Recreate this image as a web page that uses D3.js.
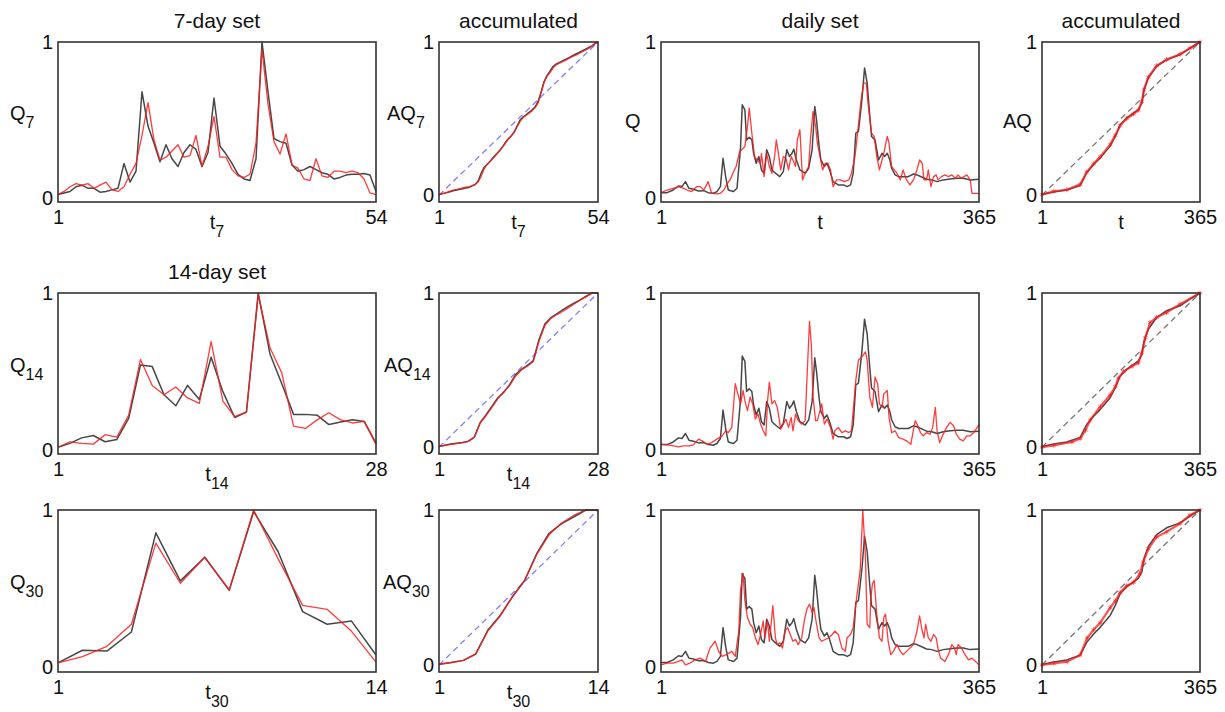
<!DOCTYPE html>
<html>
<head>
<meta charset="utf-8">
<script src="https://cdn.jsdelivr.net/npm/d3@7"></script>
<style>
  body { margin: 0; background: #fff; }
  svg { display: block; font-family: "Liberation Sans", Arial, sans-serif; }
</style>
</head>
<body>
<div id="chart"></div>
<script>
// 7-day set (t7 = 1..54)
const q7Obs = [0.02,0.03,0.04,0.07,0.08,0.06,0.06,0.035,0.04,0.05,
  0.06,0.22,0.10,0.17,0.68,0.46,0.35,0.23,0.34,0.25,
  0.20,0.29,0.34,0.31,0.20,0.29,0.64,0.33,0.28,0.22,
  0.15,0.12,0.11,0.25,1.0,0.68,0.38,0.36,0.35,0.21,
  0.17,0.18,0.20,0.18,0.16,0.15,0.12,0.13,0.145,0.15,
  0.15,0.155,0.145,0.04];
const q7Sim = [0.02,0.04,0.07,0.09,0.08,0.09,0.06,0.08,0.10,0.05,
  0.04,0.07,0.15,0.22,0.40,0.61,0.37,0.24,0.26,0.30,
  0.34,0.26,0.27,0.40,0.20,0.33,0.52,0.26,0.26,0.18,
  0.14,0.13,0.15,0.35,0.95,0.60,0.36,0.28,0.41,0.21,
  0.19,0.12,0.11,0.25,0.14,0.13,0.17,0.17,0.16,0.17,
  0.16,0.12,0.03,0.02];
const aq7Obs = [0.004,0.008,0.013,0.018,0.024,0.03,0.034,0.038,0.042,0.046,
  0.05,0.06,0.068,0.09,0.14,0.18,0.20,0.22,0.245,0.265,
  0.285,0.31,0.34,0.365,0.385,0.41,0.45,0.49,0.51,0.525,
  0.54,0.555,0.575,0.61,0.67,0.74,0.78,0.81,0.84,0.855,
  0.865,0.875,0.885,0.895,0.905,0.915,0.925,0.935,0.945,0.955,
  0.965,0.975,0.99,1.0];
const aq7Sim = [0.004,0.009,0.015,0.022,0.028,0.034,0.038,0.043,0.048,0.052,
  0.055,0.06,0.07,0.085,0.12,0.17,0.20,0.22,0.24,0.262,
  0.287,0.31,0.335,0.365,0.385,0.41,0.445,0.48,0.505,0.52,
  0.535,0.55,0.57,0.6,0.665,0.735,0.775,0.80,0.83,0.85,
  0.86,0.87,0.878,0.89,0.9,0.91,0.918,0.928,0.938,0.948,
  0.96,0.972,0.99,1.0];

// 14-day set (t14 = 1..28)
const q14Obs = [0.015,0.04,0.075,0.09,0.05,0.065,0.2,0.54,0.53,0.35,0.28,0.41,0.32,0.59,
  0.37,0.205,0.24,1.0,0.61,0.42,0.225,0.225,0.22,0.16,0.177,0.19,0.18,0.04];
const q14Sim = [0.015,0.05,0.04,0.035,0.095,0.08,0.22,0.575,0.41,0.35,0.40,0.33,0.295,0.69,
  0.31,0.21,0.24,0.99,0.65,0.49,0.15,0.135,0.19,0.235,0.19,0.17,0.18,0.035];
const aq14Obs = [0.004,0.012,0.02,0.025,0.03,0.038,0.065,0.16,0.21,0.265,0.32,0.355,0.405,0.47,
  0.505,0.53,0.56,0.70,0.80,0.84,0.865,0.89,0.915,0.935,0.955,0.98,1.0,1.0];
const aq14Sim = [0.004,0.011,0.017,0.022,0.029,0.037,0.063,0.155,0.205,0.26,0.315,0.36,0.40,0.46,
  0.50,0.525,0.555,0.69,0.79,0.835,0.86,0.88,0.905,0.93,0.955,0.975,1.0,1.0];

// 30-day set (t30 = 1..14)
const q30Obs = [0.03,0.11,0.105,0.226,0.855,0.55,0.70,0.49,0.99,0.735,0.355,0.275,0.295,0.08];
const q30Sim = [0.03,0.07,0.135,0.275,0.79,0.535,0.70,0.495,1.0,0.69,0.395,0.37,0.23,0.035];
const aq30Obs = [0.005,0.017,0.03,0.07,0.226,0.32,0.44,0.545,0.72,0.85,0.91,0.955,1.0,1.0];
const aq30Sim = [0.005,0.015,0.03,0.072,0.22,0.315,0.44,0.545,0.715,0.84,0.915,0.965,1.0,1.0];

// daily set, [day, value] vertices
const qDailyObs = [[1,0.032],[8,0.032],[15,0.049],[21,0.075],[25,0.071],[29,0.103],[33,0.06],[38,0.054],
  [44,0.043],[50,0.045],[55,0.032],[61,0.028],[65,0.039],[69,0.071],[72,0.253],[75,0.135],[78,0.049],
  [84,0.039],[88,0.06],[92,0.318],[94,0.597],[97,0.564],[99,0.371],[102,0.388],[105,0.371],[107,0.285],
  [110,0.221],[113,0.264],[116,0.178],[119,0.157],[122,0.307],[125,0.264],[128,0.178],[132,0.157],
  [137,0.135],[141,0.167],[145,0.307],[148,0.264],[151,0.285],[153,0.311],[156,0.242],[160,0.178],
  [166,0.157],[170,0.189],[174,0.307],[177,0.586],[179,0.5],[182,0.328],[184,0.242],[188,0.2],
  [191,0.221],[194,0.178],[198,0.103],[204,0.082],[210,0.082],[214,0.071],[218,0.082],[221,0.157],
  [224,0.414],[227,0.425],[231,0.629],[234,0.833],[237,0.736],[240,0.521],[242,0.393],[246,0.371],
  [250,0.242],[254,0.285],[257,0.264],[260,0.285],[263,0.242],[265,0.189],[269,0.146],[273,0.135],
  [278,0.135],[284,0.135],[290,0.152],[294,0.146],[300,0.131],[305,0.118],[311,0.114],[317,0.103],
  [324,0.114],[332,0.12],[340,0.124],[347,0.124],[355,0.114],[365,0.118]];
const qDailySim7 = [[1,0.032],[8,0.049],[15,0.06],[21,0.071],[27,0.06],[31,0.049],[36,0.039],[42,0.071],
  [46,0.071],[50,0.049],[55,0.103],[59,0.028],[65,0.024],[69,0.028],[73,0.049],[76,0.082],[80,0.114],
  [84,0.167],[87,0.2],[91,0.296],[94,0.311],[97,0.328],[100,0.457],[102,0.575],[105,0.414],[108,0.264],
  [111,0.242],[115,0.221],[116,0.285],[119,0.135],[122,0.285],[125,0.2],[128,0.157],[131,0.264],
  [133,0.371],[136,0.264],[138,0.178],[141,0.264],[144,0.253],[147,0.178],[150,0.264],[152,0.242],
  [155,0.2],[157,0.371],[160,0.436],[163,0.114],[166,0.157],[170,0.2],[172,0.371],[175,0.554],
  [178,0.457],[180,0.35],[183,0.264],[186,0.178],[189,0.221],[192,0.221],[195,0.178],[198,0.071],
  [202,0.114],[206,0.114],[211,0.103],[216,0.114],[219,0.157],[223,0.264],[226,0.414],[230,0.629],
  [233,0.736],[236,0.736],[238,0.607],[242,0.414],[245,0.393],[248,0.264],[251,0.178],[254,0.242],
  [256,0.285],[260,0.393],[262,0.35],[265,0.2],[268,0.178],[271,0.157],[275,0.114],[278,0.178],
  [282,0.114],[286,0.082],[290,0.114],[294,0.178],[297,0.242],[300,0.221],[302,0.114],[305,0.114],
  [307,0.178],[310,0.071],[313,0.135],[316,0.146],[318,0.114],[322,0.135],[326,0.146],[330,0.135],
  [334,0.146],[338,0.124],[341,0.146],[345,0.124],[351,0.146],[355,0.114],[357,0.028],[365,0.028]];
const qDailySim14 = [[1,0.034],[8,0.03],[15,0.024],[21,0.017],[27,0.024],[33,0.024],[38,0.03],[44,0.067],
  [48,0.056],[54,0.034],[59,0.045],[65,0.067],[71,0.088],[75,0.12],[78,0.109],[82,0.142],[86,0.421],
  [89,0.356],[92,0.292],[95,0.378],[97,0.313],[100,0.249],[103,0.335],[106,0.292],[109,0.195],
  [112,0.227],[115,0.163],[118,0.12],[121,0.088],[123,0.313],[125,0.431],[128,0.292],[131,0.313],
  [134,0.27],[136,0.206],[138,0.131],[141,0.163],[144,0.195],[147,0.142],[150,0.206],[152,0.12],
  [155,0.227],[158,0.185],[162,0.163],[166,0.185],[169,0.571],[171,0.818],[173,0.678],[175,0.335],
  [178,0.185],[180,0.185],[183,0.249],[185,0.292],[188,0.163],[191,0.195],[195,0.142],[198,0.067],
  [200,0.12],[204,0.142],[208,0.109],[212,0.12],[216,0.109],[219,0.12],[221,0.249],[224,0.442],
  [227,0.571],[231,0.592],[235,0.624],[237,0.571],[240,0.335],[243,0.27],[246,0.464],[249,0.421],
  [251,0.292],[254,0.27],[256,0.356],[260,0.378],[262,0.206],[265,0.109],[269,0.12],[273,0.077],
  [278,0.067],[282,0.056],[287,0.034],[289,0.099],[292,0.185],[295,0.152],[298,0.109],[301,0.088],
  [305,0.109],[309,0.099],[312,0.142],[315,0.27],[317,0.12],[320,0.045],[324,0.099],[328,0.142],
  [332,0.174],[336,0.152],[339,0.099],[343,0.067],[347,0.056],[351,0.088],[355,0.088],[359,0.109],
  [365,0.159]];
const qDailySim30 = [[1,0.017],[8,0.028],[15,0.028],[21,0.039],[25,0.049],[29,0.017],[34,0.028],[40,0.049],
  [46,0.06],[52,0.039],[57,0.124],[63,0.167],[67,0.103],[71,0.071],[76,0.082],[82,0.103],[86,0.071],
  [90,0.232],[92,0.489],[95,0.597],[97,0.425],[100,0.318],[103,0.275],[106,0.253],[109,0.189],
  [112,0.146],[115,0.21],[118,0.296],[120,0.189],[123,0.296],[125,0.167],[127,0.275],[129,0.393],
  [132,0.189],[134,0.146],[137,0.157],[140,0.124],[143,0.232],[146,0.253],[149,0.21],[152,0.167],
  [155,0.178],[158,0.146],[162,0.189],[165,0.296],[168,0.371],[171,0.403],[174,0.35],[176,0.382],
  [179,0.275],[182,0.189],[185,0.167],[189,0.178],[193,0.189],[197,0.21],[200,0.232],[204,0.21],
  [208,0.124],[212,0.103],[214,0.189],[218,0.21],[221,0.253],[224,0.403],[227,0.532],[229,0.618],
  [231,0.876],[232,1.0],[235,0.704],[237,0.275],[240,0.253],[241,0.425],[243,0.532],[245,0.554],
  [248,0.339],[251,0.189],[254,0.167],[256,0.318],[258,0.339],[261,0.167],[264,0.082],[267,0.103],
  [271,0.146],[275,0.103],[278,0.082],[282,0.103],[286,0.124],[290,0.146],[294,0.232],[297,0.328],
  [300,0.232],[302,0.189],[304,0.275],[307,0.189],[310,0.167],[313,0.21],[316,0.189],[318,0.124],
  [321,0.06],[326,0.039],[330,0.082],[334,0.146],[337,0.124],[339,0.082],[341,0.146],[345,0.124],
  [349,0.082],[353,0.049],[357,0.06],[361,0.039],[365,0.017]];

// accumulated daily, [day, value]
const aqDailyObs = [[1,0.004],[28,0.02],[58,0.033],[89,0.063],[104,0.146],[120,0.2],[135,0.243],[158,0.32],
  [170,0.385],[181,0.46],[196,0.504],[212,0.537],[223,0.559],[231,0.6],[236,0.687],[246,0.765],
  [265,0.841],[288,0.885],[319,0.917],[342,0.96],[365,1.0]];
const aqDailySim7 = [[1,0.004],[28,0.025],[58,0.035],[89,0.07],[104,0.15],[120,0.205],[135,0.25],[158,0.33],
  [170,0.39],[181,0.455],[196,0.5],[212,0.53],[223,0.555],[231,0.61],[236,0.69],[246,0.77],
  [265,0.845],[288,0.885],[319,0.92],[342,0.96],[365,1.0]];
const aqDailySim14 = [[1,0],[28,0.011],[70,0.033],[89,0.055],[101,0.109],[112,0.175],[135,0.262],[158,0.338],
  [170,0.393],[177,0.447],[189,0.491],[208,0.524],[223,0.546],[231,0.611],[239,0.71],[250,0.808],
  [265,0.841],[288,0.873],[319,0.928],[365,1.0]];
const aqDailySim30 = [[1,0],[28,0.011],[59,0.022],[89,0.065],[105,0.174],[120,0.228],[135,0.272],[158,0.37],
  [170,0.413],[181,0.467],[196,0.511],[212,0.533],[226,0.587],[234,0.663],[246,0.75],[265,0.826],
  [288,0.859],[319,0.913],[342,0.967],[365,1.0]];

const W = 1225, H = 712;
const svg = d3.select("#chart").append("svg").attr("width", W).attr("height", H);

const cols = { A: [58, 376], B: [439, 598], C: [661, 979], D: [1042, 1200] };
const rows = [[42, 202], [293, 454], [510, 672]];

const OBS = "#333", SIM = "#ff1a1a";
const FS = 20;

function subLabel(g, x, y, main, sub, anchor) {
    const t = g.append("text").attr("x", x).attr("y", y).attr("text-anchor", anchor)
        .attr("font-size", FS).attr("fill", "#111");
    t.append("tspan").text(main);
    if (sub) t.append("tspan").attr("dy", 8).attr("font-size", 16).text(sub);
    return t;
}

function panel(col, row, cfg) {
    const [x0, x1] = cols[col];
    const [y0, y1] = rows[row];
    const g = svg.append("g");

    const x = d3.scaleLinear().domain([1, cfg.xMax]).range([x0, x1]);
    const y = d3.scaleLinear().domain([cfg.yMin, 1]).range([y1, y0]);

    const line = d3.line().x(d => x(d[0])).y(d => y(d[1]));

    if (cfg.diag) {
        g.append("path").datum([[1, 0], [cfg.xMax, 1]]).attr("d", line)
            .attr("fill", "none").attr("stroke", cfg.diag)
            .attr("stroke-width", 1.3).attr("stroke-dasharray", "6,4");
    }

    cfg.series.forEach(s => {
        const pts = s.pairs ? s.data : s.data.map((v, i) => [i + 1, v]);
        g.append("path").datum(pts).attr("d", line)
            .attr("fill", "none").attr("stroke", s.color)
            .attr("stroke-width", s.width).attr("stroke-opacity", s.opacity)
            .attr("stroke-linejoin", "round");
        if (s.markers) {
            g.append("g").selectAll("path").data(pts).enter().append("path")
                .attr("d", d3.symbol(d3.symbolAsterisk, 18))
                .attr("transform", d => `translate(${x(d[0])},${y(d[1])})`)
                .attr("fill", "none").attr("stroke", s.color)
                .attr("stroke-opacity", 0.55).attr("stroke-width", 1);
        }
    });

    g.append("rect").attr("x", x0).attr("y", y0).attr("width", x1 - x0).attr("height", y1 - y0)
        .attr("fill", "none").attr("stroke", "#333").attr("stroke-width", 1.6);

    const xAxis = g.append("g").attr("transform", `translate(0,${y1})`)
        .call(d3.axisBottom(x).tickValues([1, cfg.xMax]).tickSize(0).tickPadding(8).tickFormat(d3.format("d")));
    const yAxis = g.append("g").attr("transform", `translate(${x0},0)`)
        .call(d3.axisLeft(y).tickValues([0, 1]).tickSize(0).tickPadding(5).tickFormat(d3.format("d")));
    [xAxis, yAxis].forEach(a => {
        a.select(".domain").remove();
        a.selectAll("text").attr("font-size", FS).attr("fill", "#111")
            .attr("font-family", "\"Liberation Sans\", Arial, sans-serif");
    });

    const cy = (y0 + y1) / 2;
    if (cfg.yLabel) {
        const [main, sub, lx] = cfg.yLabel;
        subLabel(g, lx, sub ? cy - 2 : cy + 6, main, sub, "start");
    }
    if (cfg.xLabel) {
        const [main, sub] = cfg.xLabel;
        subLabel(g, (x0 + x1) / 2, y1 + 27, main, sub, "middle");
    }
    if (cfg.title) {
        g.append("text").attr("x", (x0 + x1) / 2).attr("y", y0 - 14)
            .attr("text-anchor", "middle").attr("font-size", 21).attr("fill", "#111")
            .text(cfg.title);
    }
}

const obsStyle = { color: OBS, width: 1.5, opacity: 0.9 };
const simStyle = { color: SIM, width: 1.3, opacity: 0.85 };
const aqSimStyle = { color: SIM, width: 2.2, opacity: 0.75, markers: true };

const QMIN = -0.028, AQMIN = -0.045;

// row 1
panel("A", 0, { xMax: 54, yMin: QMIN, title: "7-day set", yLabel: ["Q", "7", 10], xLabel: ["t", "7"],
    series: [{ ...obsStyle, data: q7Obs }, { ...simStyle, data: q7Sim }] });
panel("B", 0, { xMax: 54, yMin: AQMIN, title: "accumulated", diag: "#7f7fff", yLabel: ["AQ", "7", 387], xLabel: ["t", "7"],
    series: [{ ...obsStyle, data: aq7Obs }, { ...simStyle, data: aq7Sim }] });
panel("C", 0, { xMax: 365, yMin: QMIN, title: "daily set", yLabel: ["Q", null, 625], xLabel: ["t", null],
    series: [{ ...obsStyle, pairs: true, data: qDailyObs }, { ...simStyle, pairs: true, data: qDailySim7 }] });
panel("D", 0, { xMax: 365, yMin: AQMIN, title: "accumulated", diag: "#777", yLabel: ["AQ", null, 1003], xLabel: ["t", null],
    series: [{ ...obsStyle, pairs: true, data: aqDailyObs }, { ...aqSimStyle, pairs: true, data: aqDailySim7 }] });

// row 2
panel("A", 1, { xMax: 28, yMin: QMIN, title: "14-day set", yLabel: ["Q", "14", 10], xLabel: ["t", "14"],
    series: [{ ...obsStyle, data: q14Obs }, { ...simStyle, data: q14Sim }] });
panel("B", 1, { xMax: 28, yMin: AQMIN, diag: "#7f7fff", yLabel: ["AQ", "14", 384], xLabel: ["t", "14"],
    series: [{ ...obsStyle, data: aq14Obs }, { ...simStyle, data: aq14Sim }] });
panel("C", 1, { xMax: 365, yMin: QMIN,
    series: [{ ...obsStyle, pairs: true, data: qDailyObs }, { ...simStyle, pairs: true, data: qDailySim14 }] });
panel("D", 1, { xMax: 365, yMin: AQMIN, diag: "#777",
    series: [{ ...obsStyle, pairs: true, data: aqDailyObs }, { ...aqSimStyle, pairs: true, data: aqDailySim14 }] });

// row 3
panel("A", 2, { xMax: 14, yMin: QMIN, yLabel: ["Q", "30", 10], xLabel: ["t", "30"],
    series: [{ ...obsStyle, data: q30Obs }, { ...simStyle, data: q30Sim }] });
panel("B", 2, { xMax: 14, yMin: AQMIN, diag: "#7f7fff", yLabel: ["AQ", "30", 383], xLabel: ["t", "30"],
    series: [{ ...obsStyle, data: aq30Obs }, { ...simStyle, data: aq30Sim }] });
panel("C", 2, { xMax: 365, yMin: QMIN,
    series: [{ ...obsStyle, pairs: true, data: qDailyObs }, { ...simStyle, pairs: true, data: qDailySim30 }] });
panel("D", 2, { xMax: 365, yMin: AQMIN, diag: "#777",
    series: [{ ...obsStyle, pairs: true, data: aqDailyObs }, { ...aqSimStyle, pairs: true, data: aqDailySim30 }] });
</script>
</body>
</html>
